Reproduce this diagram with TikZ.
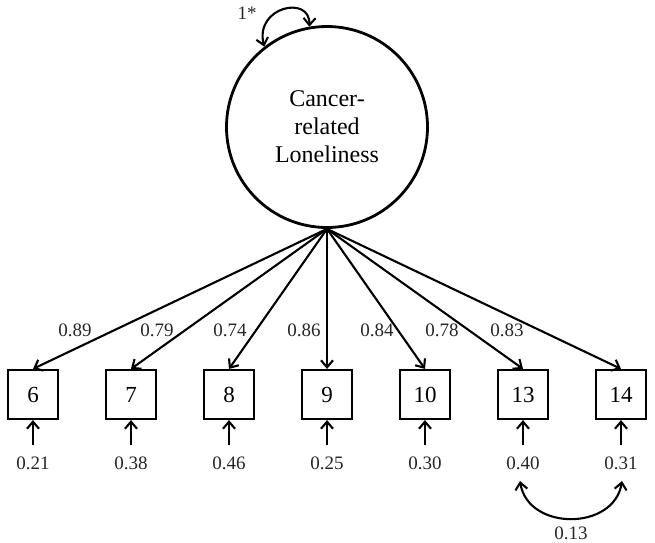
\documentclass[tikz,border=0pt]{standalone}
\usepackage{fontspec}
\setmainfont{Liberation Serif}
\usetikzlibrary{arrows.meta}
\begin{document}
\begin{tikzpicture}[x=1pt,y=-1pt,
  ind/.style={draw,line width=2.2pt,minimum width=50pt,minimum height=49pt,inner sep=0pt,font=\fontsize{23}{24}\selectfont},
  lat/.style={draw,circle,line width=2.8pt,minimum size=201pt,inner sep=0pt,align=center,font=\fontsize{24}{28}\selectfont},
  lab/.style={font=\fontsize{19}{21}\selectfont,inner sep=0pt,text=black!85},
  arr/.style={line width=2.1pt,-{Straight Barb[length=7pt,width=12pt,line width=2.1pt]}},
  darr/.style={line width=2.1pt,{Straight Barb[length=7pt,width=12pt,line width=2.1pt]}-{Straight Barb[length=7pt,width=12pt,line width=2.1pt]}}
]
\useasboundingbox (0,0) rectangle (655,542);
\node[lat] (F) at (327,127) {Cancer-\\related\\Loneliness};
\foreach \n/\x/\ld/\lx/\er in {6/33/0.89/75/0.21, 7/131/0.79/157/0.38, 8/229/0.74/230/0.46, 9/327/0.86/304/0.25, 10/425/0.84/377/0.30, 13/523/0.78/442/0.40, 14/621/0.83/507/0.31}{
  \node[ind] (b\n) at (\x,394.5) {\n};
  \draw[arr] (F.south) -- (b\n.north);
  \node[lab] (l\n) at (\lx,330) {\ld};
  \coordinate (e\n) at (\x,445);
  \draw[arr] (e\n) -- (b\n.south);
  \node[lab] (r\n) at (\x,463) {\er};
}
\draw[darr] (F.128) .. controls +(-10,-40) and +(1,-32) .. (F.100);
\node[lab] (v) at (247,13) {1*};
\draw[darr] (520,481) .. controls (528,531) and (614,531) .. (622,481);
\node[lab] (c) at (571,533) {0.13};
\end{tikzpicture}
\end{document}
